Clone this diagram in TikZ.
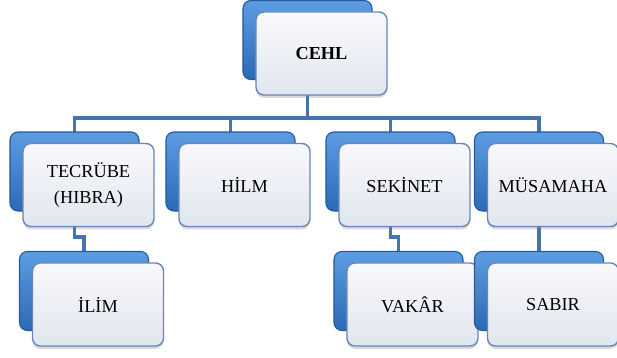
\documentclass[tikz,border=0pt]{standalone}
\usepackage{fontspec}
\setmainfont{Liberation Serif}
\usetikzlibrary{backgrounds,shadows}
\definecolor{backtop}{HTML}{5C9DE2}
\definecolor{backbot}{HTML}{2D69B5}
\definecolor{backedge}{HTML}{28599A}
\definecolor{fronttop}{HTML}{F8F9FC}
\definecolor{frontbot}{HTML}{E1E6EE}
\definecolor{frontedge}{HTML}{6688B8}
\definecolor{linkblue}{HTML}{4673AA}

\begin{document}
\begin{tikzpicture}[x=0.025cm,y=-0.025cm,
	backbox/.style={draw=backedge,line width=0.8pt,rounded corners=0.2cm,
		top color=backtop,bottom color=backbot,
		minimum width=3.225cm,minimum height=1.975cm},
	frontbox/.style={draw=frontedge,line width=1pt,rounded corners=0.2cm,
		top color=fronttop,bottom color=frontbot,
		minimum width=3.275cm,minimum height=2.075cm,align=center,
		font=\fontsize{13}{19}\selectfont,
		drop shadow={shadow xshift=0pt,shadow yshift=-0.07cm,opacity=0.3}},
	link/.style={draw=linkblue,line width=2.5pt}]
	\useasboundingbox (0,0) rectangle (617,357);
	
	\foreach \x/\y/\name/\txt in {321.5/53.5/cehl/\textbf{CEHL},
		88.5/185/tecrube/{TECRÜBE\\(HIBRA)}, 244.5/185/hilm/HİLM,
		404.5/185/sekinet/SEKİNET, 553/185/musamaha/MÜSAMAHA,
		98/304.5/ilim/İLİM, 412.5/304.5/vakar/VAKÂR, 553/304.5/sabir/SABIR}
	{
		\node[backbox] (\name-b) at (\x-14,\y-13.5) {};
		\node[frontbox] (\name) at (\x,\y) {\txt};
	}
	
	\coordinate (bus) at (0,118);
	\coordinate (jog) at (0,237);
	\begin{scope}[on background layer]
		\foreach \c in {tecrube,hilm,sekinet,musamaha}
			\draw[link] (cehl-b.center) |- (bus -| \c-b) -- (\c-b.center);
		\draw[link] (tecrube-b.center) |- (jog -| ilim-b) -- (ilim-b.center);
		\draw[link] (sekinet-b.center) |- (jog -| vakar-b) -- (vakar-b.center);
		\draw[link] (musamaha-b.center) -- (sabir-b.center);
	\end{scope}
\end{tikzpicture}
\end{document}
